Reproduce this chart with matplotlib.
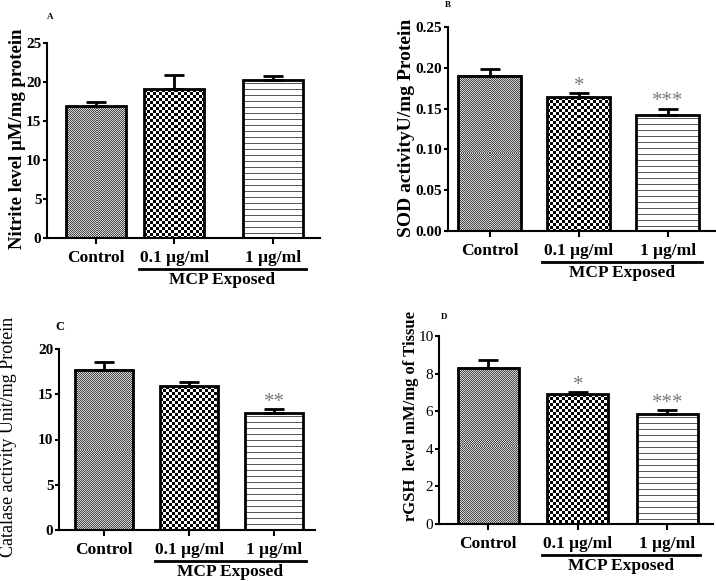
"""Four-panel bar chart: oxidative stress markers after MCP exposure."""

import matplotlib
matplotlib.use("Agg")
import matplotlib.pyplot as plt
import numpy as np

plt.rcParams["font.family"] = ["Liberation Serif", "DejaVu Serif"]

groups = ["Control", "0.1 μg/ml", "1 μg/ml"]
group_title = "MCP Exposed"

# panel data
nitrite_mean = [16.9, 19.1, 20.2]
nitrite_sem = [0.6, 1.8, 0.55]
nitrite_stars = ["", "", ""]

sod_mean = [0.190, 0.164, 0.142]
sod_sem = [0.008, 0.005, 0.008]
sod_stars = ["", "*", "***"]

catalase_mean = [17.7, 15.9, 12.9]
catalase_sem = [0.9, 0.5, 0.5]
catalase_stars = ["", "", "**"]

gsh_mean = [8.3, 6.9, 5.85]
gsh_sem = [0.45, 0.12, 0.2]
gsh_stars = ["", "*", "***"]

W, H = 716, 581


def pattern(kind, h, w):
  yy, xx = np.mgrid[0:h, 0:w]
  if kind == "fine":
    arr = np.where((xx + yy) % 2 == 0, 0.3, 0.82)
  elif kind == "coarse":
    arr = np.where(((xx // 3) + (yy // 3)) % 2 == 0, 0.0, 1.0)
  else:
    arr = np.where(yy % 6 == 3, 0.35, 1.0)
  return arr


def panel(rect_px, means, sems, stars, ylabel, yticks, ytickfmt, xpos, width,
          xlim, letter, letter_xy, ylabel_x, ylabel_kw, tick_bold=True):
  left, right, y0, ytop = rect_px
  ax = fig.add_axes([left / W, (H - y0) / H, (right - left) / W, (y0 - ytop) / H])
  ymax = yticks[-1]
  ax_w_px = right - left
  ax_h_px = y0 - ytop
  xscale = ax_w_px / (xlim[1] - xlim[0])
  yscale = ax_h_px / ymax

  kinds = ["fine", "coarse", "lines"]
  for x, m, kind in zip(xpos, means, kinds):
    w_px = max(int(round(width * xscale)), 1)
    h_px = max(int(round(m * yscale)), 1)
    ax.imshow(pattern(kind, h_px, w_px), cmap="gray", vmin=0, vmax=1,
              extent=(x - width / 2, x + width / 2, 0, m), aspect="auto",
              interpolation="nearest", origin="upper", zorder=1)
  ax.bar(xpos, means, width=width, facecolor="none", edgecolor="black",
         linewidth=2, zorder=3)
  ax.errorbar(xpos, means, yerr=[np.zeros(len(means)), sems], fmt="none",
              ecolor="black", elinewidth=2, capsize=7, capthick=2, zorder=2)
  for x, m, s, st in zip(xpos, means, sems, stars):
    if st:
      ax.annotate(st, (x, m + s), xytext=(0, -2), textcoords="offset points",
                  ha="center", va="bottom", fontsize=15, color="#7a7a7a")

  ax.set_xlim(*xlim)
  ax.set_ylim(0, ymax)
  ax.set_yticks(yticks)
  ax.set_yticklabels([ytickfmt.format(t) for t in yticks],
                     fontweight="bold" if tick_bold else "normal", fontsize=11)
  ax.set_xticks(xpos)
  ax.set_xticklabels(groups, fontweight="bold", fontsize=12.5)
  for side in ["top", "right"]:
    ax.spines[side].set_visible(False)
  for side in ["left", "bottom"]:
    ax.spines[side].set_linewidth(1.5)
  ax.tick_params(direction="out", length=3, width=1.5, pad=1)
  ax.tick_params(axis="x", length=4, pad=5)

  # group bracket under the two exposed groups
  trans = ax.get_xaxis_transform()
  x0 = xpos[1] - width / 2 - 0.06
  x1 = xpos[2] + width / 2 + 0.03
  yl = -31 / ax_h_px
  ax.plot([x0, x1], [yl, yl], color="black", linewidth=2, transform=trans,
          clip_on=False)
  ax.text((x0 + x1) / 2, -42 / ax_h_px, group_title, transform=trans,
          ha="center", va="center", fontsize=12.5, fontweight="bold")

  fig.text(letter_xy[0] / W, 1 - letter_xy[1] / H, letter, ha="center",
           va="center", fontsize=letter_xy[2], fontweight="bold")
  fig.text(ylabel_x / W, 1 - ylabel_kw["yc"] / H, ylabel, rotation=90,
           ha="center", va="center", fontsize=ylabel_kw["size"],
           fontweight=ylabel_kw["weight"])
  return ax


fig = plt.figure(figsize=(W / 100, H / 100), dpi=100)

panel((47, 320, 238, 43), nitrite_mean, nitrite_sem, nitrite_stars,
      "Nitrite level μM/mg protein", [0, 5, 10, 15, 20, 25], "{:g}",
      [0, 1, 2.27], 0.77, (-0.63, 2.87), "A", (50, 17, 6.5), 18,
      {"yc": 139, "size": 13.5, "weight": "bold"})

panel((448, 715, 231, 27), sod_mean, sod_sem, sod_stars,
      "SOD activityU/mg Protein", [0, 0.05, 0.10, 0.15, 0.20, 0.25], "{:.2f}",
      [0, 1, 2], 0.71, (-0.47, 2.53), "B", (448, 5, 6.5), 406,
      {"yc": 128, "size": 14, "weight": "bold"})

panel((59, 315, 530, 349), catalase_mean, catalase_sem, catalase_stars,
      "Catalase activity Unit/mg Protein", [0, 5, 10, 15, 20], "{:g}",
      [0, 1, 2], 0.68, (-0.53, 2.48), "C", (60, 327, 9), 9,
      {"yc": 437, "size": 13, "weight": "normal"})

panel((439, 713, 524, 336), gsh_mean, gsh_sem, gsh_stars,
      "rGSH  level mM/mg of Tissue", [0, 2, 4, 6, 8, 10], "{:g}",
      [0, 1, 2], 0.68, (-0.55, 2.51), "D", (444, 317, 6.5), 411,
      {"yc": 416, "size": 12, "weight": "bold"}, tick_bold=False)

plt.savefig("out.png", dpi=100)
